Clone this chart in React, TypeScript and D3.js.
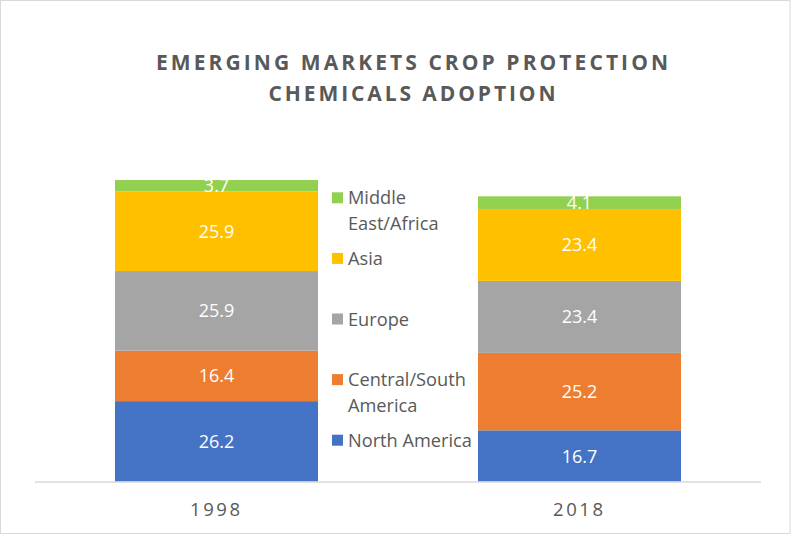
import React from "react";
import * as d3 from "d3";

const years = ["1998", "2018"];
const seriesNames = ["North America", "Central/South America", "Europe", "Asia", "Middle East/Africa"];
const northAmerica = [26.2, 16.7];
const centralSouthAmerica = [16.4, 25.2];
const europe = [25.9, 23.4];
const asia = [25.9, 23.4];
const middleEastAfrica = [3.7, 4.1];
const seriesColors = ["#4472C4", "#ED7D31", "#A5A5A5", "#FFC000", "#92D050"];
const titleLines = ["EMERGING MARKETS CROP PROTECTION", "CHEMICALS ADOPTION"];
// legend order (top to bottom) and wrapped label lines
const legendOrder = [4, 3, 2, 1, 0];
const legendLines = [["Middle", "East/Africa"], ["Asia"], ["Europe"], ["Central/South", "America"], ["North America"]];

const W = 791;
const H = 535;
const FONT = "'Open Sans', 'DejaVu Sans', sans-serif";
const TEXT = "#595959";

export default function App() {
  const seriesValues = [northAmerica, centralSouthAmerica, europe, asia, middleEastAfrica];
  const table = years.map((y, i) => {
    const row: Record<string, any> = { year: y };
    seriesNames.forEach((s, k) => (row[s] = seriesValues[k][i]));
    return row;
  });
  const stack = d3.stack<any>().keys(seriesNames)(table);

  const x = d3.scaleBand<string>().domain(years).range([35, 761]).paddingInner(0.4408).paddingOuter(0.2204);
  const y = d3.scaleLinear().domain([0, 100]).range([481.7, 174.2]);

  const titleWidths = [512, 287];

  return (
    <svg width={W} height={H} style={{ position: "absolute", left: 0, top: 0 }} fontFamily={FONT}>
      <rect x={0} y={0} width={W} height={H} fill="#ffffff" />
      <rect x={0.5} y={0.5} width={789.5} height={533} fill="none" stroke="#d9d9d9" strokeWidth={1} />

      {titleLines.map((t, i) => (
        <text
          key={t}
          x={412}
          y={70 + i * 31}
          textAnchor="middle"
          fontSize={21}
          fontWeight={700}
          fill={TEXT}
          textLength={titleWidths[i]}
          lengthAdjust="spacing"
        >
          {t}
        </text>
      ))}

      {stack.map((layer, k) => (
        <g key={layer.key}>
          {layer.map((d, i) => (
            <rect
              key={years[i]}
              x={x(years[i])}
              y={y(d[1])}
              width={x.bandwidth()}
              height={y(d[0]) - y(d[1])}
              fill={seriesColors[k]}
            />
          ))}
          {layer.map((d, i) => (
            <text
              key={"l" + years[i]}
              x={(x(years[i]) as number) + x.bandwidth() / 2}
              y={(y(d[0]) + y(d[1])) / 2}
              dy="0.36em"
              textAnchor="middle"
              fontSize={18}
              fill="#ffffff"
            >
              {d3.format(".1f")(d[1] - d[0])}
            </text>
          ))}
        </g>
      ))}

      <line x1={35} x2={761} y1={482} y2={482} stroke="#d9d9d9" strokeWidth={1.5} />

      {years.map((yr) => (
        <text
          key={yr}
          x={(x(yr) as number) + x.bandwidth() / 2 - 1.5}
          y={516}
          textAnchor="middle"
          fontSize={18.5}
          fill={TEXT}
          textLength={50}
          lengthAdjust="spacing"
        >
          {yr}
        </text>
      ))}

      {legendOrder.map((k, i) => {
        const base = 204.3 + i * 60.6;
        return (
          <g key={seriesNames[k]}>
            <rect x={332} y={base - 12} width={11} height={11} fill={seriesColors[k]} />
            {legendLines[i].map((ln, j) => (
              <text key={ln} x={348} y={base + j * 25.5} fontSize={18.2} fill={TEXT}>
                {ln}
              </text>
            ))}
          </g>
        );
      })}
    </svg>
  );
}
